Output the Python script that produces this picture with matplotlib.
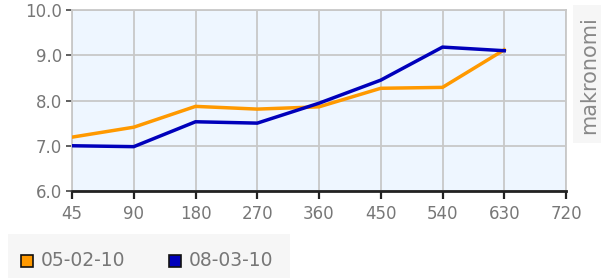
import matplotlib
matplotlib.use("Agg")
import matplotlib.pyplot as plt
from matplotlib.patches import Rectangle

# maturity labels (equally spaced categories)
maturities = ["45", "90", "180", "270", "360", "450", "540", "630", "720"]
yields_0502 = [7.19, 7.41, 7.87, 7.81, 7.86, 8.27, 8.29, 9.12]
yields_0803 = [7.00, 6.98, 7.53, 7.50, 7.94, 8.45, 9.18, 9.10]
series_labels = ["05-02-10", "08-03-10"]
series_colors = ["#ff9900", "#0000bb"]
y_ticks = [6.0, 7.0, 8.0, 9.0, 10.0]

W, H = 611, 278
fig = plt.figure(figsize=(W / 100, H / 100), dpi=100)
ax = fig.add_axes([72 / W, (H - 191) / H, (566 - 72) / W, (191 - 10) / H])
ax.set_facecolor("#eef6ff")

xs = range(len(maturities))
for vals, col in zip([yields_0502, yields_0803], series_colors):
    ax.plot(list(xs)[:len(vals)], vals, color=col, lw=2.5, solid_joinstyle="miter", zorder=3)

ax.set_xlim(0, len(maturities) - 1)
ax.set_ylim(6, 10)
ax.set_xticks(list(xs))
ax.set_xticklabels(maturities)
ax.set_yticks(y_ticks)
ax.set_yticklabels([f"{v:.1f}" for v in y_ticks])
ax.grid(True, color="#c8c8c8", lw=1.3)
ax.set_axisbelow(True)

for s in ["top", "right", "left"]:
    ax.spines[s].set_color("#c8c8c8")
    ax.spines[s].set_linewidth(1.3)
ax.spines["bottom"].set_color("#222222")
ax.spines["bottom"].set_linewidth(2)
ax.tick_params(axis="x", direction="out", length=6, width=1.6, color="#222222",
               labelsize=12, labelcolor="#777777", pad=4)
ax.tick_params(axis="y", direction="out", length=4, width=1.2, color="#444444",
               labelsize=12, labelcolor="#777777", pad=3)

# watermark
fig.patches.append(Rectangle((573 / W, (H - 143) / H), 28 / W, 138 / H,
                             transform=fig.transFigure, facecolor="#f6f6f6",
                             edgecolor="none"))
fig.text(589 / W, 1 - 75 / H, "makronomi", rotation=90, color="#888888",
         fontsize=15, ha="center", va="center")

# legend box
fig.patches.append(Rectangle((8 / W, 0), 282 / W, 44 / H, transform=fig.transFigure,
                             facecolor="#f6f6f6", edgecolor="none"))
for i, (lab, col) in enumerate(zip(series_labels, series_colors)):
    x0 = 21 + i * 148
    fig.patches.append(Rectangle((x0 / W, (H - 267) / H), 12 / W, 12 / H,
                                 transform=fig.transFigure, facecolor=col,
                                 edgecolor="#111111", lw=1.2))
    fig.text((x0 + 20) / W, (H - 261) / H, lab, color="#777777", fontsize=13.5,
             va="center", ha="left")

fig.savefig("out.png", dpi=100)
